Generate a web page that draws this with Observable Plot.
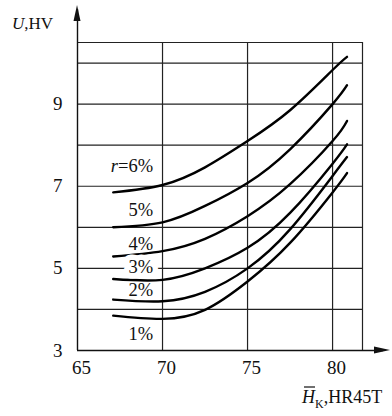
<!DOCTYPE html>
<html><head><meta charset="utf-8">
<script src="https://cdn.jsdelivr.net/npm/d3@7"></script>
<script src="https://cdn.jsdelivr.net/npm/@observablehq/plot@0.6"></script>
<style>body{margin:0;background:#fff} #chart svg{display:block}</style>
</head><body><div id="chart"></div>
<script>
// H_K (HR45T) sample points
const hk = [67.1, 70, 72.5, 75, 77.5, 80, 80.85];
// U (HV) for each r
const u6 = [6.85, 7.03, 7.46, 8.1, 8.85, 9.83, 10.15];
const u5 = [6.0, 6.12, 6.52, 7.08, 7.9, 9.0, 9.46];
const u4 = [5.29, 5.42, 5.72, 6.27, 7.05, 8.1, 8.59];
const u3 = [4.74, 4.72, 5.0, 5.5, 6.35, 7.55, 8.02];
const u2 = [4.24, 4.2, 4.43, 5.0, 5.95, 7.25, 7.71];
const u1 = [3.85, 3.77, 3.99, 4.68, 5.62, 6.85, 7.32];
const seriesNames = ["6%", "5%", "4%", "3%", "2%", "1%"];
const seriesValues = [u6, u5, u4, u3, u2, u1];
const labelTexts = ["r=6%", "5%", "4%", "3%", "2%", "1%"];
const labelY = [7.5, 6.41, 5.6, 5.02, 4.46, 3.41];
const labelX = 69.45;
const xTicks = [65, 70, 75, 80];
const yTicks = [3, 5, 7, 9];
const xGrid = [70, 75, 80, 81.76];
const yGrid = [4, 5, 6, 7, 8, 9, 10, 10.5];
const xMin = 65, xMax = 81.76, yMin = 3, yMax = 10.5;

const rows = seriesNames.flatMap((r, i) => hk.map((x, j) => ({r, x, y: seriesValues[i][j]})));
const labels = labelTexts.map((t, i) => ({t, x: labelX, y: labelY[i]}));

const font = "Liberation Serif, Times New Roman, serif";
const plot = Plot.plot({
  width: 392, height: 416,
  marginLeft: 77, marginRight: 30, marginTop: 42, marginBottom: 66,
  style: {fontFamily: font, fontSize: "19px", color: "#111", background: "#fff"},
  x: {domain: [xMin, xMax]},
  y: {domain: [yMin, yMax]},
  marks: [
    Plot.ruleY(yGrid, {x1: xMin, x2: xMax, stroke: "#222", strokeWidth: 1.2}),
    Plot.ruleX(xGrid, {y1: yMin, y2: yMax, stroke: "#222", strokeWidth: 1.2}),
    Plot.ruleY([yMin], {x1: xMin, x2: 83.0, stroke: "#111", strokeWidth: 1.4}),
    Plot.ruleX([xMin], {y1: yMin, y2: 11.3, stroke: "#111", strokeWidth: 1.4}),
    Plot.line(rows, {x: "x", y: "y", z: "r", curve: "natural", stroke: "#000", strokeWidth: 2.4}),
    Plot.text(labels, {filter: d => d.t === "3%", x: "x", y: "y", text: "t", textAnchor: "end", fontSize: 18.5, fill: "#111", stroke: "white", strokeWidth: 11, paintOrder: "stroke"}),
    Plot.text(labels, {filter: d => d.t !== "3%", x: "x", y: "y", text: "t", textAnchor: "end", fontSize: 18.5, fill: "#111"}),
    Plot.axisX({ticks: xTicks, tickSize: 0, tickPadding: 10, dx: 4, fontSize: 19, label: null}),
    Plot.axisY({ticks: yTicks, tickSize: 0, tickPadding: 15, fontSize: 19, label: null})
  ]
});
document.getElementById("chart").appendChild(plot);

const svg = d3.select(plot);
// italic r in the first curve label
svg.selectAll("text").filter(function() { return this.textContent === "r=6%"; }).each(function() {
  const t = d3.select(this);
  t.text(null);
  t.append("tspan").attr("font-style", "italic").text("r");
  t.append("tspan").text("=6%");
});

// arrowheads and axis titles
const sx = plot.scale("x"), sy = plot.scale("y");
const ax0 = sx.apply(xMin), ay0 = sy.apply(yMin);
svg.append("path").attr("d", `M${ax0},5 L${ax0-3.5},21 L${ax0+3.5},21 Z`).attr("fill", "#111");
svg.append("path").attr("d", `M390,${ay0} L374,${ay0-3.5} L374,${ay0+3.5} Z`).attr("fill", "#111");
const yt = svg.append("text").attr("x", 12).attr("y", 29).attr("text-anchor", "start")
  .attr("font-family", font).attr("font-size", 17).attr("fill", "#111");
yt.append("tspan").attr("font-style", "italic").text("U");
yt.append("tspan").text(",HV");
const xt = svg.append("text").attr("x", 302).attr("y", 403).attr("text-anchor", "start")
  .attr("font-family", font).attr("font-size", 18).attr("fill", "#111");
xt.append("tspan").attr("font-style", "italic").text("H");
xt.append("tspan").attr("font-size", 12).attr("dy", 5).text("K");
xt.append("tspan").attr("dy", -5).text(",HR45T");
svg.append("line").attr("x1", 304).attr("x2", 315).attr("y1", 387).attr("y2", 387).attr("stroke", "#111").attr("stroke-width", 1.2);
</script></body></html>
